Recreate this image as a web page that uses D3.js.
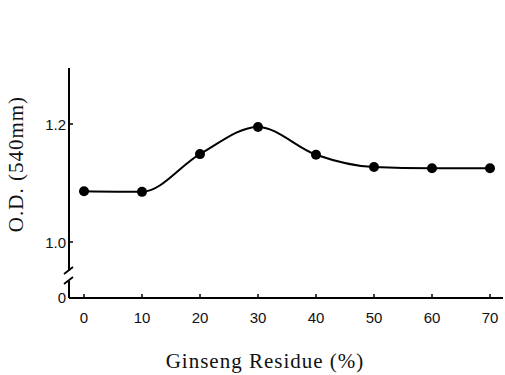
<!DOCTYPE html>
<html lang="en">
<head>
<meta charset="utf-8">
<title>Ginseng Residue</title>
<script src="https://cdn.jsdelivr.net/npm/d3@7"></script>
<style>
  body { margin: 0; background: #fff; }
  .tick-label { font-family: "Liberation Sans Narrow", "Liberation Sans", Arial, sans-serif; font-size: 15px; fill: #111; }
  .title { font-family: "Liberation Serif", "Times New Roman", serif; font-size: 21px; letter-spacing: 1px; fill: #111; }
</style>
</head>
<body>
<div id="chart"></div>
<script>
// data
var residue = [0, 10, 20, 30, 40, 50, 60, 70];
var od = [1.086, 1.085, 1.149, 1.195, 1.148, 1.127, 1.125, 1.125];
var xTicks = [0, 10, 20, 30, 40, 50, 60, 70];
var yTicks = [1.0, 1.2];

var width = 505, height = 375;

var svg = d3.select("#chart").append("svg")
    .attr("width", width)
    .attr("height", height);

var x = d3.scaleLinear().domain([0, 70]).range([84, 490]);
var y = d3.scaleLinear().domain([1.0, 1.2]).range([242, 124]);

var axisX = 69, baseY = 298, topY = 68;

// y axis line with break
svg.append("line").attr("x1", axisX).attr("x2", axisX).attr("y1", topY).attr("y2", 271)
    .attr("stroke", "#000").attr("stroke-width", 2);
svg.append("line").attr("x1", axisX).attr("x2", axisX).attr("y1", 281).attr("y2", baseY)
    .attr("stroke", "#000").attr("stroke-width", 2);
[271, 281].forEach(function(b) {
  svg.append("line").attr("x1", axisX - 5).attr("x2", axisX + 4).attr("y1", b + 3).attr("y2", b - 4)
      .attr("stroke", "#000").attr("stroke-width", 1.8);
});

// x axis line
svg.append("line").attr("x1", axisX).attr("x2", 503).attr("y1", baseY).attr("y2", baseY)
    .attr("stroke", "#000").attr("stroke-width", 2);

// y ticks
svg.selectAll(".ytick").data(yTicks).enter().append("line")
    .attr("x1", axisX).attr("x2", axisX + 4)
    .attr("y1", function(d) { return y(d); }).attr("y2", function(d) { return y(d); })
    .attr("stroke", "#000").attr("stroke-width", 1.5);
svg.selectAll(".ylab").data(yTicks).enter().append("text")
    .attr("class", "tick-label")
    .attr("x", axisX - 3).attr("y", function(d) { return y(d) + 6; })
    .attr("text-anchor", "end")
    .text(function(d) { return d.toFixed(1); });
svg.append("text").attr("class", "tick-label")
    .attr("x", axisX - 3).attr("y", baseY + 5).attr("text-anchor", "end").text("0");

// x ticks
svg.selectAll(".xtick").data(xTicks).enter().append("line")
    .attr("x1", function(d) { return x(d); }).attr("x2", function(d) { return x(d); })
    .attr("y1", baseY).attr("y2", baseY - 4)
    .attr("stroke", "#000").attr("stroke-width", 1.5);
svg.selectAll(".xlab").data(xTicks).enter().append("text")
    .attr("class", "tick-label")
    .attr("x", function(d) { return x(d); }).attr("y", baseY + 25)
    .attr("text-anchor", "middle")
    .text(function(d) { return d; });

// curve
var line = d3.line()
    .x(function(d, i) { return x(residue[i]); })
    .y(function(d) { return y(d); })
    .curve(d3.curveMonotoneX);
svg.append("path").datum(od)
    .attr("d", line)
    .attr("fill", "none").attr("stroke", "#000").attr("stroke-width", 2);

svg.selectAll(".dot").data(od).enter().append("circle")
    .attr("cx", function(d, i) { return x(residue[i]); })
    .attr("cy", function(d) { return y(d); })
    .attr("r", 5).attr("fill", "#000");

// titles
svg.append("text").attr("class", "title")
    .attr("x", 265).attr("y", 368).attr("text-anchor", "middle")
    .text("Ginseng Residue (%)");
svg.append("text").attr("class", "title")
    .attr("transform", "translate(23,164) rotate(-90)")
    .attr("text-anchor", "middle")
    .text("O.D. (540mm)");
</script>
</body>
</html>
